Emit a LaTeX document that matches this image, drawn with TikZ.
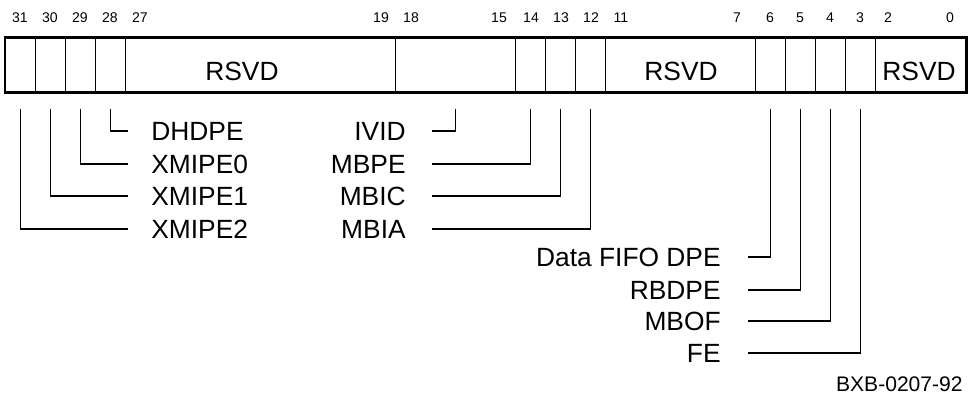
\documentclass[tikz,border=0pt]{standalone}
\usepackage{fontspec}
\setmainfont{Liberation Sans}
\usetikzlibrary{positioning}

\begin{document}
\begin{tikzpicture}[x=0.02cm,y=-0.02cm,
  fld/.style={draw,line width=0.7pt,anchor=west,inner sep=0,minimum height=1.08cm,minimum width=0.6cm},
  bitno/.style={font=\fontsize{8}{9}\selectfont,inner sep=0},
  lbl/.style={font=\fontsize{15}{17}\selectfont,inner sep=0},
  lnk/.style={line width=0.6pt,shorten >=0.32cm}]
\useasboundingbox (0,0) rectangle (971,396);
\node[fld] (b31) at (5,65) {};
\node[fld] (b30) at (35,65) {};
\node[fld] (b29) at (65,65) {};
\node[fld] (b28) at (95,65) {};
\node[fld,minimum width=5.4cm] (r27) at (125,65) {};
\node[fld,minimum width=2.4cm] (f18) at (395,65) {};
\node[fld] (b14) at (515,65) {};
\node[fld] (b13) at (545,65) {};
\node[fld] (b12) at (575,65) {};
\node[fld,minimum width=3cm] (r11) at (605,65) {};
\node[fld] (b6) at (755,65) {};
\node[fld] (b5) at (785,65) {};
\node[fld] (b4) at (815,65) {};
\node[fld] (b3) at (845,65) {};
\node[fld,minimum width=1.8cm] (r2) at (875,65) {};
\draw[line width=1.7pt] (b31.north west) rectangle (r2.south east);
\node[lbl] (t27) at (242,71) {RSVD};
\node[lbl] (t11) at (681,71) {RSVD};
\node[lbl] (t2) at (919,71) {RSVD};
\node[bitno] (n31) at (20,18) {31};
\node[bitno] (n30) at (50,18) {30};
\node[bitno] (n29) at (80,18) {29};
\node[bitno] (n28) at (110,18) {28};
\node[bitno] (n27) at (140,18) {27};
\node[bitno] (n19) at (381,18) {19};
\node[bitno] (n18) at (411,18) {18};
\node[bitno] (n15) at (499,18) {15};
\node[bitno] (n14) at (531,18) {14};
\node[bitno] (n13) at (561,18) {13};
\node[bitno] (n12) at (591,18) {12};
\node[bitno] (n11) at (621,18) {11};
\node[bitno] (n7) at (737,18) {7};
\node[bitno] (n6) at (770,18) {6};
\node[bitno] (n5) at (800,18) {5};
\node[bitno] (n4) at (830,18) {4};
\node[bitno] (n3) at (860,18) {3};
\node[bitno] (n2) at (888,18) {2};
\node[bitno] (n0) at (950,18) {0};
\node[lbl,anchor=west] (dhdpe) at (151,131) {DHDPE};
\node[lbl,anchor=west] (xmipe0) at (151,164) {XMIPE0};
\node[lbl,anchor=west] (xmipe1) at (151,196) {XMIPE1};
\node[lbl,anchor=west] (xmipe2) at (151,229) {XMIPE2};
\node[lbl,anchor=east] (ivid) at (406,131) {IVID};
\node[lbl,anchor=east] (mbpe) at (406,164) {MBPE};
\node[lbl,anchor=east] (mbic) at (406,196) {MBIC};
\node[lbl,anchor=east] (mbia) at (406,229) {MBIA};
\node[lbl,anchor=east] (dfifo) at (721,257) {Data FIFO DPE};
\node[lbl,anchor=east] (rbdpe) at (721,290) {RBDPE};
\node[lbl,anchor=east] (mbof) at (721,321) {MBOF};
\node[lbl,anchor=east] (fe) at (721,353) {FE};
\node[font=\fontsize{12}{14}\selectfont,inner sep=0,anchor=east] (fig) at (963,384) {BXB-0207-92};
\draw[lnk,shorten <=0.46cm] (dhdpe.west) -| (b28.south);
\draw[lnk,shorten <=0.46cm] (xmipe0.west) -| (b29.south);
\draw[lnk,shorten <=0.46cm] (xmipe1.west) -| (b30.south);
\draw[lnk,shorten <=0.46cm] (xmipe2.west) -| (b31.south);
\draw[lnk,shorten <=0.52cm] (ivid.east) -| (f18.south);
\draw[lnk,shorten <=0.52cm] (mbpe.east) -| (b14.south);
\draw[lnk,shorten <=0.52cm] (mbic.east) -| (b13.south);
\draw[lnk,shorten <=0.52cm] (mbia.east) -| (b12.south);
\draw[lnk,shorten <=0.54cm] (dfifo.east) -| (b6.south);
\draw[lnk,shorten <=0.54cm] (rbdpe.east) -| (b5.south);
\draw[lnk,shorten <=0.54cm] (mbof.east) -| (b4.south);
\draw[lnk,shorten <=0.54cm] (fe.east) -| (b3.south);
\end{tikzpicture}
\end{document}
